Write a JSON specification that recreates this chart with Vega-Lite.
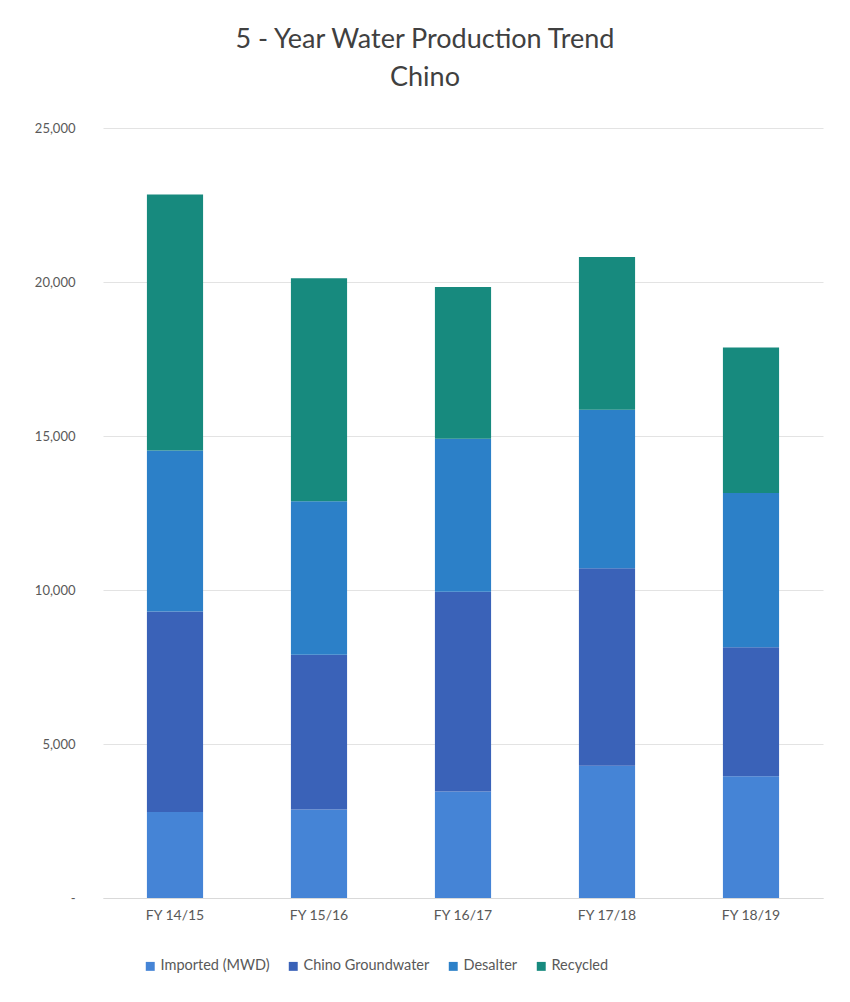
{
  "$schema": "https://vega.github.io/schema/vega-lite/v6.json",
  "width": 720,
  "height": 770,
  "autosize": "none",
  "padding": {"left": 103, "top": 128, "right": 27, "bottom": 104},
  "background": "white",
  "title": {
    "text": ["5 - Year Water Production Trend", "Chino"],
    "font": "Lato",
    "fontSize": 27,
    "fontWeight": "normal",
    "color": "#404040",
    "lineHeight": 38,
    "anchor": "middle",
    "dx": -38,
    "offset": 30
  },
  "data": {
    "values": [
      {"year": "FY 14/15", "source": "Imported (MWD)", "order": 1, "af": 2790},
      {"year": "FY 14/15", "source": "Chino Groundwater", "order": 2, "af": 6510},
      {"year": "FY 14/15", "source": "Desalter", "order": 3, "af": 5230},
      {"year": "FY 14/15", "source": "Recycled", "order": 4, "af": 8310},
      {"year": "FY 15/16", "source": "Imported (MWD)", "order": 1, "af": 2870},
      {"year": "FY 15/16", "source": "Chino Groundwater", "order": 2, "af": 5030},
      {"year": "FY 15/16", "source": "Desalter", "order": 3, "af": 4985},
      {"year": "FY 15/16", "source": "Recycled", "order": 4, "af": 7240},
      {"year": "FY 16/17", "source": "Imported (MWD)", "order": 1, "af": 3460},
      {"year": "FY 16/17", "source": "Chino Groundwater", "order": 2, "af": 6480},
      {"year": "FY 16/17", "source": "Desalter", "order": 3, "af": 4970},
      {"year": "FY 16/17", "source": "Recycled", "order": 4, "af": 4930},
      {"year": "FY 17/18", "source": "Imported (MWD)", "order": 1, "af": 4290},
      {"year": "FY 17/18", "source": "Chino Groundwater", "order": 2, "af": 6420},
      {"year": "FY 17/18", "source": "Desalter", "order": 3, "af": 5140},
      {"year": "FY 17/18", "source": "Recycled", "order": 4, "af": 4960},
      {"year": "FY 18/19", "source": "Imported (MWD)", "order": 1, "af": 3950},
      {"year": "FY 18/19", "source": "Chino Groundwater", "order": 2, "af": 4190},
      {"year": "FY 18/19", "source": "Desalter", "order": 3, "af": 5010},
      {"year": "FY 18/19", "source": "Recycled", "order": 4, "af": 4720}
    ]
  },
  "mark": {"type": "bar"},
  "encoding": {
    "x": {
      "field": "year",
      "type": "nominal",
      "sort": null,
      "scale": {"paddingInner": 0.61, "paddingOuter": 0.305},
      "axis": {
        "title": null,
        "labelAngle": 0,
        "labelFont": "Lato",
        "labelFontSize": 14,
        "labelColor": "#595959",
        "labelPadding": 10,
        "ticks": false,
        "domainColor": "#d9d9d9",
        "grid": false
      }
    },
    "y": {
      "field": "af",
      "type": "quantitative",
      "stack": "zero",
      "scale": {"domain": [0, 25000], "nice": false},
      "axis": {
        "title": null,
        "values": [0, 5000, 10000, 15000, 20000, 25000],
        "labelExpr": "datum.value == 0 ? '-' : format(datum.value, ',')",
        "labelFont": "Lato",
        "labelFontSize": 13,
        "labelColor": "#595959",
        "labelPadding": 28,
        "ticks": false,
        "domain": false,
        "gridColor": "#e3e3e3"
      }
    },
    "color": {
      "field": "source",
      "type": "nominal",
      "sort": ["Imported (MWD)", "Chino Groundwater", "Desalter", "Recycled"],
      "scale": {
        "domain": ["Imported (MWD)", "Chino Groundwater", "Desalter", "Recycled"],
        "range": ["#4584d6", "#3a62b8", "#2c80c8", "#178a7e"]
      },
      "legend": {
        "title": null,
        "orient": "none",
        "direction": "horizontal",
        "legendX": 40,
        "legendY": 831,
        "symbolType": "square",
        "symbolSize": 80,
        "symbolStrokeWidth": 0,
        "labelFont": "Lato",
        "labelFontSize": 14.5,
        "labelColor": "#595959",
        "columnPadding": 16,
        "labelOffset": 3
      }
    },
    "order": {"field": "order", "type": "quantitative"}
  },
  "config": {"view": {"stroke": null}}
}
